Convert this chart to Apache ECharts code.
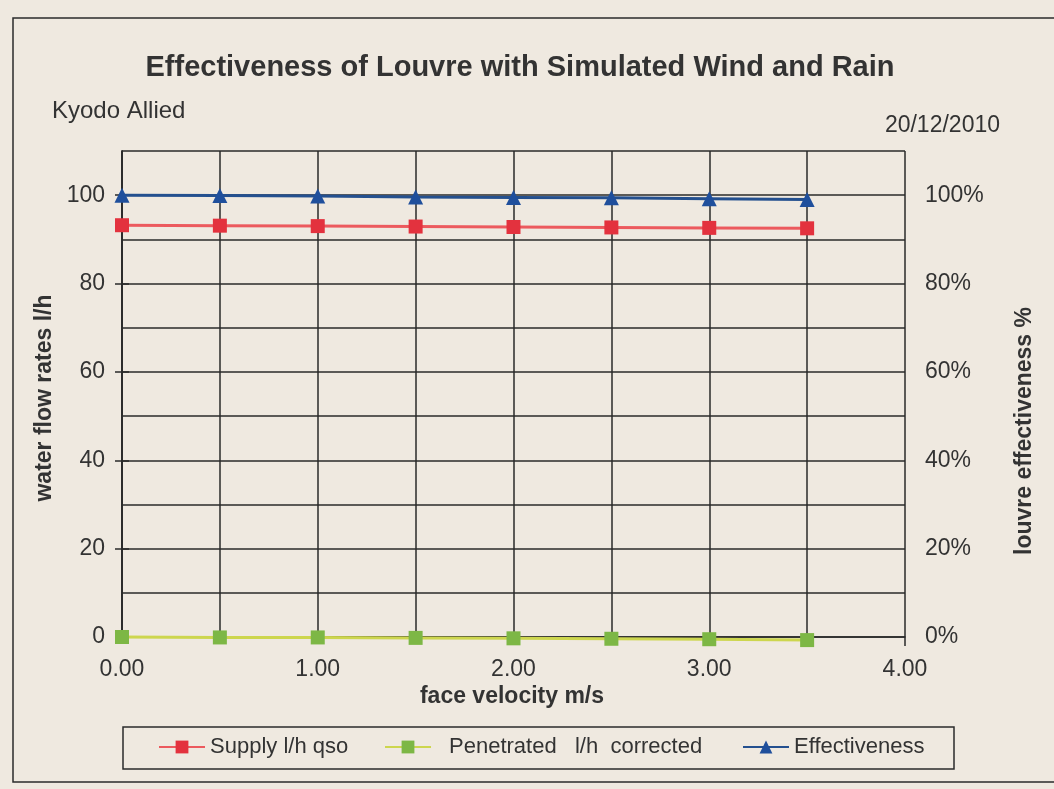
<!DOCTYPE html>
<html>
<head>
<meta charset="utf-8">
<script src="https://cdn.jsdelivr.net/npm/echarts@6/dist/echarts.min.js"></script>
<style>
html,body{margin:0;padding:0;background:#efe9e0;}
#chart{width:1054px;height:789px;}
</style>
</head>
<body>
<div id="chart"></div>
<script>
const velocity = [0, 0.5, 1.0, 1.5, 2.0, 2.5, 3.0, 3.5];
const supply = [93.2, 93.1, 93.0, 92.9, 92.8, 92.7, 92.6, 92.5];
const penetrated = [0.0, -0.1, -0.1, -0.2, -0.3, -0.4, -0.5, -0.7];
const effectiveness = [100.0, 99.9, 99.8, 99.6, 99.5, 99.4, 99.2, 99.0];
const xTickLabels = [0, 1, 2, 3, 4];
const leftTickLabels = [0, 20, 40, 60, 80, 100];
const rightTickLabels = [0, 20, 40, 60, 80, 100];
const seriesNames = ['Supply l/h qso', 'Penetrated   l/h  corrected', 'Effectiveness'];
const titleText = 'Effectiveness of Louvre with Simulated Wind and Rain';
const companyText = 'Kyodo Allied';
const dateText = '20/12/2010';
const xName = 'face velocity m/s';
const yLeftName = 'water flow rates l/h';
const yRightName = 'louvre effectiveness %';

const FONT = '"Liberation Sans", Arial, sans-serif';
const TXT = '#333333';
const GRIDC = '#2a2a2a';

const pair = (xs, ys) => xs.map((x, i) => [x, ys[i]]);
const hiddenParts = {axisLine: {show: false}, axisTick: {show: false}, axisLabel: {show: false}};

const chart = echarts.init(document.getElementById('chart'), null, {renderer: 'canvas'});
chart.setOption({
  backgroundColor: 'transparent',
  animation: false,
  textStyle: {fontFamily: FONT},
  title: [
    {text: titleText, left: 520, top: 53, textAlign: 'center', padding: 0,
     textStyle: {fontFamily: FONT, fontSize: 29, fontWeight: 'bold', color: TXT}},
    {text: companyText, left: 52, top: 99, padding: 0,
     textStyle: {fontFamily: FONT, fontSize: 24, fontWeight: 'normal', color: TXT}},
    {text: dateText, right: 54, top: 114, padding: 0,
     textStyle: {fontFamily: FONT, fontSize: 23, fontWeight: 'normal', color: TXT}}
  ],
  grid: {left: 122, right: 149, top: 151, bottom: 152, containLabel: false},
  xAxis: [
    {
      type: 'value', min: 0, max: 4, interval: 0.5,
      ...hiddenParts,
      splitLine: {show: true, lineStyle: {color: GRIDC, width: 1.5}}
    },
    {
      type: 'value', min: 0, max: 4, interval: 0.5, position: 'bottom',
      axisLine: {show: true, lineStyle: {color: GRIDC, width: 1.5}},
      axisTick: {show: true, customValues: [4], length: 9, lineStyle: {color: GRIDC, width: 1.5}},
      axisLabel: {customValues: xTickLabels, formatter: v => Number(v).toFixed(2),
        fontFamily: FONT, fontSize: 23, color: TXT, margin: 21},
      splitLine: {show: false}
    }
  ],
  yAxis: [
    {
      type: 'value', min: 0, max: 110, interval: 10, position: 'left',
      axisLine: {show: true, lineStyle: {color: GRIDC, width: 1.5}},
      axisTick: {show: true, customValues: leftTickLabels, length: 7, inside: false, lineStyle: {color: GRIDC, width: 1.5}},
      axisLabel: {customValues: leftTickLabels, formatter: v => String(v),
        fontFamily: FONT, fontSize: 23, color: TXT, margin: 17},
      splitLine: {show: false}
    },
    {
      type: 'value', min: 0, max: 110, interval: 10, position: 'right',
      axisLine: {show: true, lineStyle: {color: GRIDC, width: 1.5}},
      axisTick: {show: true, customValues: rightTickLabels, length: 7, inside: false, lineStyle: {color: GRIDC, width: 1.5}},
      axisLabel: {customValues: rightTickLabels, formatter: v => v + '%',
        fontFamily: FONT, fontSize: 23, color: TXT, margin: 20},
      splitLine: {show: false}
    },
    {
      type: 'value', min: 0, max: 110, interval: 10, position: 'left',
      ...hiddenParts,
      splitLine: {show: true, lineStyle: {color: GRIDC, width: 1.5}}
    }
  ],
  legend: [
    {data: [seriesNames[0]], left: 158, top: 736, padding: 0, itemWidth: 46, itemHeight: 16,
     textStyle: {fontFamily: FONT, fontSize: 22, color: TXT}},
    {data: [seriesNames[1]], left: 384, top: 736, padding: 0, itemWidth: 46, itemHeight: 16,
     textStyle: {fontFamily: FONT, fontSize: 22, color: TXT, padding: [0, 0, 0, 13]}},
    {data: [seriesNames[2]], left: 742, top: 736, padding: 0, itemWidth: 46, itemHeight: 16,
     textStyle: {fontFamily: FONT, fontSize: 22, color: TXT}}
  ],
  graphic: [
    {type: 'rect', shape: {x: 13, y: 18, width: 1100, height: 764}, silent: true,
     style: {fill: 'none', stroke: '#2b2b2b', lineWidth: 1.5}},
    {type: 'rect', shape: {x: 123, y: 727, width: 831, height: 42}, silent: true,
     style: {fill: 'none', stroke: '#2b2b2b', lineWidth: 1.5}},
    {type: 'text', x: 45, y: 398, rotation: Math.PI / 2, silent: true,
     style: {text: yLeftName, font: 'bold 23px ' + FONT, fill: TXT, align: 'center', verticalAlign: 'middle'}},
    {type: 'text', x: 1025, y: 431, rotation: Math.PI / 2, silent: true,
     style: {text: yRightName, font: 'bold 23px ' + FONT, fill: TXT, align: 'center', verticalAlign: 'middle'}},
    {type: 'text', x: 512, y: 697, silent: true,
     style: {text: xName, font: 'bold 23px ' + FONT, fill: TXT, align: 'center', verticalAlign: 'middle'}}
  ],
  series: [
    {name: seriesNames[0], type: 'line', xAxisIndex: 1, yAxisIndex: 0, data: pair(velocity, supply), clip: false,
     symbol: 'rect', symbolSize: 14, z: 3,
     lineStyle: {color: '#ec5a5e', width: 3}, itemStyle: {color: '#e3323e'}},
    {name: seriesNames[1], type: 'line', xAxisIndex: 1, yAxisIndex: 0, data: pair(velocity, penetrated), clip: false,
     symbol: 'rect', symbolSize: 14, z: 3,
     lineStyle: {color: '#cdd64e', width: 3}, itemStyle: {color: '#7db745'}},
    {name: seriesNames[2], type: 'line', xAxisIndex: 1, yAxisIndex: 1, data: pair(velocity, effectiveness), clip: false,
     symbol: 'triangle', symbolSize: 15, z: 3,
     lineStyle: {color: '#24508f', width: 3}, itemStyle: {color: '#1f4f9c'}}
  ]
});
</script>
</body>
</html>
